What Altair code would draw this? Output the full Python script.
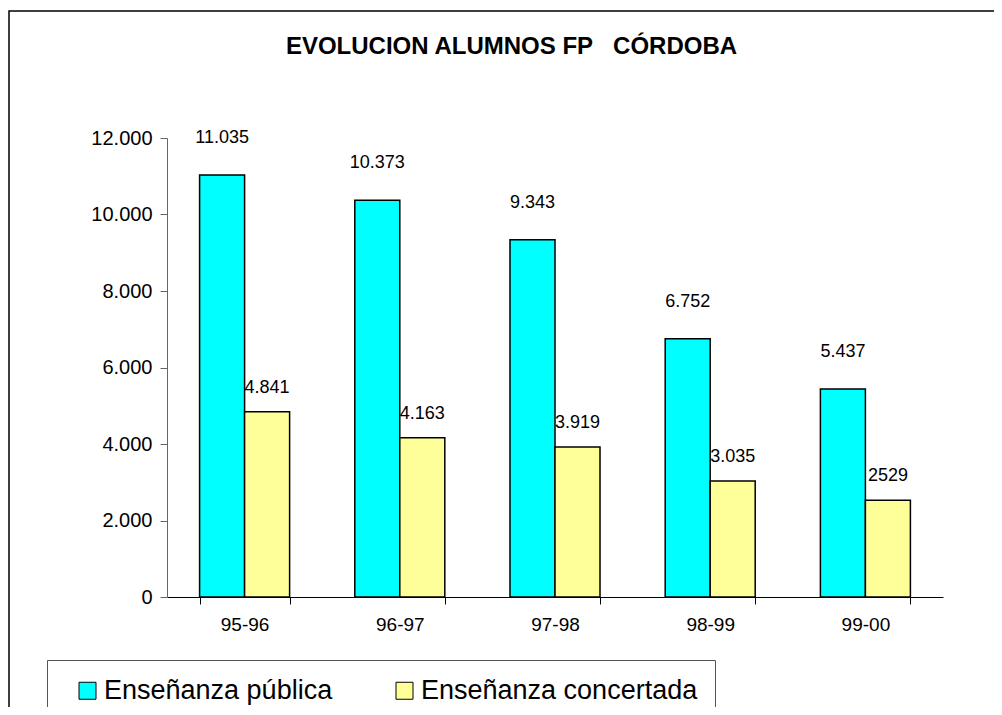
import altair as alt
import pandas as pd

title_text = "EVOLUCION ALUMNOS FP\u00a0\u00a0 CÓRDOBA"
cursos = ["95-96", "96-97", "97-98", "98-99", "99-00"]
publica = [11035, 10373, 9343, 6752, 5437]
concertada = [4841, 4163, 3919, 3035, 2529]
publica_labels = ["11.035", "10.373", "9.343", "6.752", "5.437"]
concertada_labels = ["4.841", "4.163", "3.919", "3.035", "2529"]
series = ["Enseñanza pública", "Enseñanza concertada"]
colors = ["#00FFFF", "#FFFF99"]
y_ticks = [0, 2000, 4000, 6000, 8000, 10000, 12000]

rows = []
for i, c in enumerate(cursos):
    rows.append({"curso": c, "serie": series[0], "valor": publica[i], "etiqueta": publica_labels[i]})
    rows.append({"curso": c, "serie": series[1], "valor": concertada[i], "etiqueta": concertada_labels[i]})
df = pd.DataFrame(rows)

FONT = "Liberation Sans"

x = alt.X(
    "curso:N", sort=cursos,
    scale=alt.Scale(paddingInner=0.42, paddingOuter=0.21),
    axis=alt.Axis(title=None, labelAngle=0, tickBand="extent", tickSize=7,
                  labelFontSize=19, labelColor="black", labelPadding=11,
                  domainColor="black", tickColor="black", labelFont=FONT),
)
xoff = alt.XOffset("serie:N", sort=series, scale=alt.Scale(domain=series, paddingInner=0, paddingOuter=0))
y = alt.Y(
    "valor:Q",
    scale=alt.Scale(domain=[0, 12000], nice=False),
    axis=alt.Axis(title=None, values=y_ticks, grid=False, tickSize=7,
                  labelExpr="replace(format(datum.value, ','), ',', '.')",
                  labelFontSize=20, labelColor="black", labelPadding=8,
                  domainColor="#666666", tickColor="#666666", labelFont=FONT),
)

base = alt.Chart(df)

bars = base.mark_bar(stroke="black", strokeWidth=1.5).encode(
    x=x, xOffset=xoff, y=y,
    color=alt.Color(
        "serie:N", sort=series,
        scale=alt.Scale(domain=series, range=colors),
        legend=alt.Legend(
            title=None, orient="none", legendX=-120, legendY=522,
            direction="horizontal", symbolType="square", symbolSize=289,
            symbolStrokeColor="black", symbolStrokeWidth=1, symbolOffset=10,
            labelFontSize=27, labelFont=FONT, labelColor="black", labelOffset=3,
            labelLimit=500, columnPadding=48, padding=17, strokeColor="#555555",
        ),
    ),
)

lab_pub = base.transform_filter(alt.datum.serie == series[0]).mark_text(
    dy=-37, baseline="middle", fontSize=18, font=FONT, color="black"
).encode(x=x, xOffset=xoff, y=y, text="etiqueta:N")

lab_con = base.transform_filter(alt.datum.serie == series[1]).mark_text(
    dy=-24, baseline="middle", fontSize=18, font=FONT, color="black"
).encode(x=x, xOffset=xoff, y=y, text="etiqueta:N")

border = alt.Chart(alt.Data(values=[{}])).mark_rect(
    fill="transparent", stroke="black", strokeWidth=1.5
).encode(
    x=alt.value(-158), x2=alt.value(900), y=alt.value(-127), y2=alt.value(700)
)

title = alt.Chart(alt.Data(values=[{"t": title_text}])).mark_text(
    fontSize=24, fontWeight="bold", font=FONT, color="black",
    align="center", baseline="middle"
).encode(x=alt.value(344.5), y=alt.value(-91), text="t:N")

chart = alt.layer(border, title, bars, lab_pub, lab_con).properties(
    width=776, height=459,
    autosize="none",
    padding={"left": 159, "top": 130, "right": 51, "bottom": 110},
).configure_view(stroke=None)

chart.save("out.html", embed_options={"renderer": "svg", "actions": False})
